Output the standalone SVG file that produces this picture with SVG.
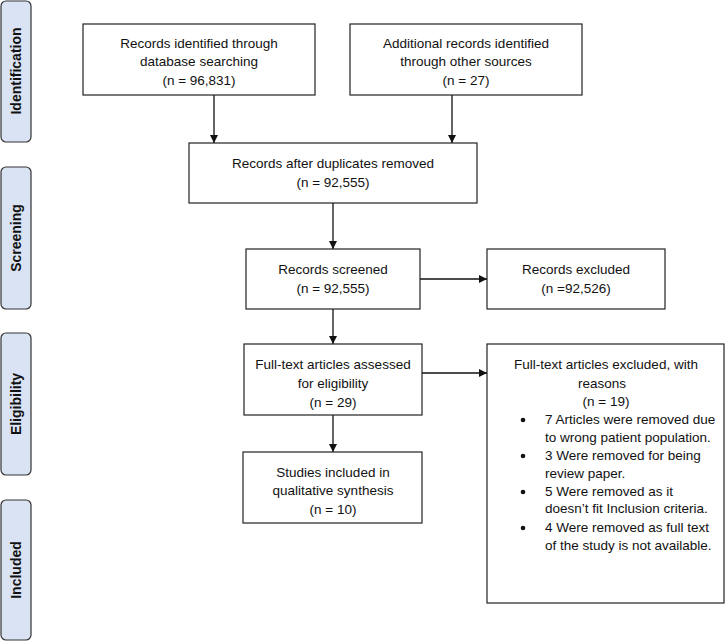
<svg xmlns="http://www.w3.org/2000/svg" width="726" height="642" viewBox="0 0 726 642">
<style>
.box{fill:#fff;stroke:#222;stroke-width:1.2}
.side{fill:#dae3f3;stroke:#333;stroke-width:1.2}
.t{font-family:"Liberation Sans",Arial,sans-serif;font-size:13.5px;fill:#111;text-anchor:middle}
.tl{font-family:"Liberation Sans",Arial,sans-serif;font-size:13.5px;fill:#111}
.st{font-family:"Liberation Sans",Arial,sans-serif;font-size:14px;font-weight:bold;fill:#111;text-anchor:middle}
.c{stroke:#111;stroke-width:1.3;fill:none;marker-end:url(#ah)}
</style>
<defs>
<marker id="ah" markerWidth="10" markerHeight="10" refX="8" refY="4" orient="auto" markerUnits="userSpaceOnUse">
<path d="M0,0 L8,4 L0,8 Z" fill="#111"/>
</marker>
</defs>
<rect width="726" height="642" fill="#fff"/>
<g id="side-identification"><rect class="side" x="1" y="1" width="30" height="141" rx="5"/><text class="st" transform="translate(21,71) rotate(-90)">Identification</text></g>
<g id="side-screening"><rect class="side" x="1" y="167" width="30" height="142" rx="5"/><text class="st" transform="translate(21,238) rotate(-90)">Screening</text></g>
<g id="side-eligibility"><rect class="side" x="1" y="333" width="30" height="142" rx="5"/><text class="st" transform="translate(21,404) rotate(-90)">Eligibility</text></g>
<g id="side-included"><rect class="side" x="1" y="500" width="30" height="140" rx="5"/><text class="st" transform="translate(21,570) rotate(-90)">Included</text></g>

<g id="connectors">
<line class="c" x1="214" y1="95" x2="214" y2="143"/>
<line class="c" x1="452" y1="95" x2="452" y2="143"/>
<line class="c" x1="333" y1="203" x2="333" y2="249"/>
<line class="c" x1="420" y1="279" x2="487" y2="279"/>
<line class="c" x1="333" y1="309" x2="333" y2="344"/>
<line class="c" x1="422" y1="373" x2="487" y2="373"/>
<line class="c" x1="333" y1="415" x2="333" y2="452"/>
</g>

<g id="n1"><rect class="box" x="83" y="24" width="232" height="71"/>
<text class="t" x="199" y="48">Records identified through</text>
<text class="t" x="199" y="66">database searching</text>
<text class="t" x="199" y="85">(n = 96,831)</text></g>

<g id="n2"><rect class="box" x="350" y="24" width="232" height="71"/>
<text class="t" x="466" y="48">Additional records identified</text>
<text class="t" x="466" y="66">through other sources</text>
<text class="t" x="466" y="85">(n = 27)</text></g>

<g id="n3"><rect class="box" x="189" y="143" width="288" height="60"/>
<text class="t" x="333" y="168">Records after duplicates removed</text>
<text class="t" x="333" y="187">(n = 92,555)</text></g>

<g id="n4"><rect class="box" x="246" y="249" width="174" height="60"/>
<text class="t" x="333" y="274">Records screened</text>
<text class="t" x="333" y="293">(n = 92,555)</text></g>

<g id="n5"><rect class="box" x="487" y="249" width="178" height="60"/>
<text class="t" x="576" y="274">Records excluded</text>
<text class="t" x="576" y="293">(n =92,526)</text></g>

<g id="n6"><rect class="box" x="244" y="344" width="178" height="71"/>
<text class="t" x="333" y="369">Full-text articles assessed</text>
<text class="t" x="333" y="388">for eligibility</text>
<text class="t" x="333" y="407">(n = 29)</text></g>

<g id="n7"><rect class="box" x="487" y="344" width="237" height="259"/>
<text class="t" x="606" y="369">Full-text articles excluded, with</text>
<text class="t" x="602" y="388">reasons</text>
<text class="t" x="606" y="406">(n = 19)</text>
<g class="tl">
<circle cx="523" cy="420" r="2.3" fill="#111"/>
<text class="tl" x="545" y="424">7 Articles were removed due</text>
<text class="tl" x="545" y="442">to wrong patient population.</text>
<circle cx="523" cy="456" r="2.3" fill="#111"/>
<text class="tl" x="545" y="460">3 Were removed for being</text>
<text class="tl" x="545" y="478">review paper.</text>
<circle cx="523" cy="492" r="2.3" fill="#111"/>
<text class="tl" x="545" y="496">5 Were removed as it</text>
<text class="tl" x="545" y="513">doesn’t fit Inclusion criteria.</text>
<circle cx="523" cy="528" r="2.3" fill="#111"/>
<text class="tl" x="545" y="532">4 Were removed as full text</text>
<text class="tl" x="545" y="550">of the study is not available.</text>
</g></g>

<g id="n8"><rect class="box" x="243" y="452" width="179" height="71"/>
<text class="t" x="333" y="477">Studies included in</text>
<text class="t" x="333" y="495">qualitative synthesis</text>
<text class="t" x="333" y="514">(n = 10)</text></g>
</svg>
